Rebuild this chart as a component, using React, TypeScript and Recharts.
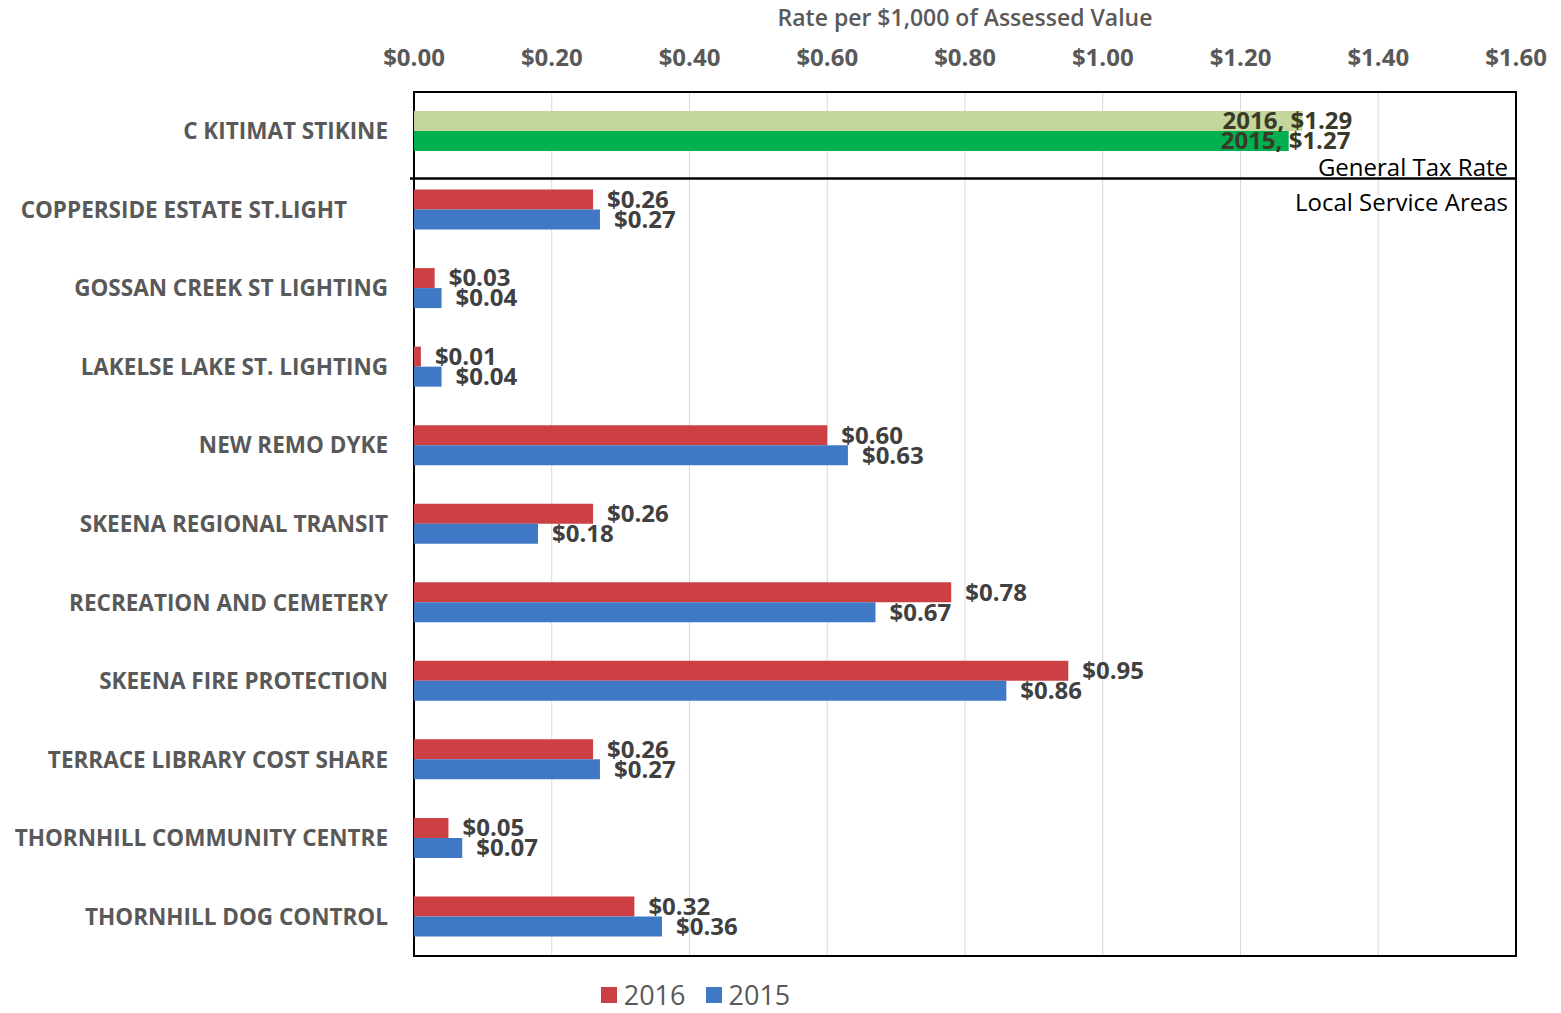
import {
  BarChart,
  Bar,
  CartesianGrid,
  XAxis,
  YAxis,
  Legend,
  Cell,
  LabelList,
  ReferenceArea,
  ReferenceLine
} from "recharts";

const categories = [
  "C KITIMAT STIKINE",
  "COPPERSIDE ESTATE ST.LIGHT\u00A0\u00A0\u00A0\u00A0\u00A0\u00A0\u00A0",
  "GOSSAN CREEK ST LIGHTING",
  "LAKELSE LAKE ST. LIGHTING",
  "NEW REMO DYKE",
  "SKEENA REGIONAL TRANSIT",
  "RECREATION AND CEMETERY",
  "SKEENA FIRE PROTECTION",
  "TERRACE LIBRARY COST SHARE",
  "THORNHILL COMMUNITY CENTRE",
  "THORNHILL DOG CONTROL"
];

const rates2016 = [1.29, 0.26, 0.03, 0.01, 0.6, 0.26, 0.78, 0.95, 0.26, 0.05, 0.32];
const rates2015 = [1.27, 0.27, 0.04, 0.04, 0.63, 0.18, 0.67, 0.86, 0.27, 0.07, 0.36];

const xTicks = [0, 0.2, 0.4, 0.6, 0.8, 1.0, 1.2, 1.4, 1.6];

const legendItems = [
  { name: "2016", color: "#cc4044" },
  { name: "2015", color: "#3f78c4" }
];

const generalColors = { y2016: "#c4d69b", y2015: "#00b050" };

const data = categories.map((category, i) => ({
  category,
  y2016: rates2016[i],
  y2015: rates2015[i]
}));

const FONT = "'Open Sans', sans-serif";
const money = (v: number) => "$" + v.toFixed(2);

function makeLabel(year: string) {
  return (props: any) => {
    const { x, y, width, height, value, index } = props;
    const general = index === 0;
    const tx = general ? x + width - (year === "2016" ? 80 : 68) : x + width + 14;
    return (
      <text
        x={tx}
        y={y + height / 2}
        dy="0.35em"
        fontFamily={FONT}
        fontWeight={700}
        fontSize={24}
        fill={general ? "#3a3a28" : "#404040"}
      >
        {general ? `${year}, ${money(value)}` : money(value)}
      </text>
    );
  };
}

function sectionLabel(text: string, below: boolean) {
  return (props: any) => {
    const vb = props.viewBox;
    return (
      <text
        x={vb.x + vb.width - 8}
        y={vb.y + (below ? 40 : 5)}
        textAnchor="end"
        fontFamily={FONT}
        fontSize={24}
        fill="#000"
      >
        {text}
      </text>
    );
  };
}

function LegendContent() {
  return (
    <div
      style={{
        display: "flex",
        justifyContent: "center",
        gap: 20,
        fontFamily: FONT,
        fontSize: 27,
        color: "#595959",
        paddingRight: 125,
        paddingTop: 20
      }}
    >
      {legendItems.map((item) => (
        <span key={item.name} style={{ display: "flex", alignItems: "center" }}>
          <span
            style={{
              width: 16,
              height: 16,
              background: item.color,
              display: "inline-block",
              marginRight: 7
            }}
          />
          {item.name}
        </span>
      ))}
    </div>
  );
}

const dividerShape = (p: any) => (
  <line x1={p.x1 - 4} y1={p.y1 + 8} x2={p.x2} y2={p.y2 + 8} stroke="#000" strokeWidth={2} />
);

export default function App() {
  return (
    <div style={{ position: "absolute", left: 0, top: 0, background: "#fff" }}>
      <BarChart
        width={1561}
        height={1013}
        data={data}
        layout="vertical"
        barGap={0}
        margin={{ top: 22, right: 45, bottom: 15, left: 0 }}
      >
        <CartesianGrid horizontal={false} stroke="#d9d9d9" />
        <XAxis
          type="number"
          orientation="top"
          domain={[0, 1.6]}
          ticks={xTicks}
          tickFormatter={money}
          axisLine={false}
          tickLine={false}
          height={70}
          tickMargin={20}
          tick={{ fontFamily: FONT, fontWeight: 700, fontSize: 24, fill: "#595959" }}
          label={{
            value: "Rate per $1,000 of Assessed Value",
            position: "insideTop",
            offset: -12,
            style: { fontFamily: FONT, fontSize: 23, fill: "#595959", fontWeight: 600 }
          }}
        />
        <YAxis
          type="category"
          dataKey="category"
          width={414}
          axisLine={false}
          tickLine={false}
          tickMargin={20}
          interval={0}
          tick={{ fontFamily: FONT, fontWeight: 700, fontSize: 22.5, fill: "#595959" }}
        />
        <ReferenceLine
          y={categories[1]}
          position="start"
          shape={dividerShape}
          label={{ content: sectionLabel("General Tax Rate", false) }}
        />
        <ReferenceLine
          y={categories[1]}
          position="start"
          shape={dividerShape}
          label={{ content: sectionLabel("Local Service Areas", true) }}
        />
        <Bar dataKey="y2016" barSize={20} isAnimationActive={false} fill={legendItems[0].color}>
          {data.map((d, i) => (
            <Cell key={d.category} fill={i === 0 ? generalColors.y2016 : legendItems[0].color} />
          ))}
          <LabelList dataKey="y2016" content={makeLabel("2016")} />
        </Bar>
        <Bar dataKey="y2015" barSize={20} isAnimationActive={false} fill={legendItems[1].color}>
          {data.map((d, i) => (
            <Cell key={d.category} fill={i === 0 ? generalColors.y2015 : legendItems[1].color} />
          ))}
          <LabelList dataKey="y2015" content={makeLabel("2015")} />
        </Bar>
        <ReferenceArea
          x1={0}
          x2={1.6}
          fill="none"
          fillOpacity={0}
          stroke="#000"
          strokeWidth={2}
          strokeOpacity={1}
        />
        <Legend verticalAlign="bottom" height={42} content={LegendContent} />
      </BarChart>
    </div>
  );
}
